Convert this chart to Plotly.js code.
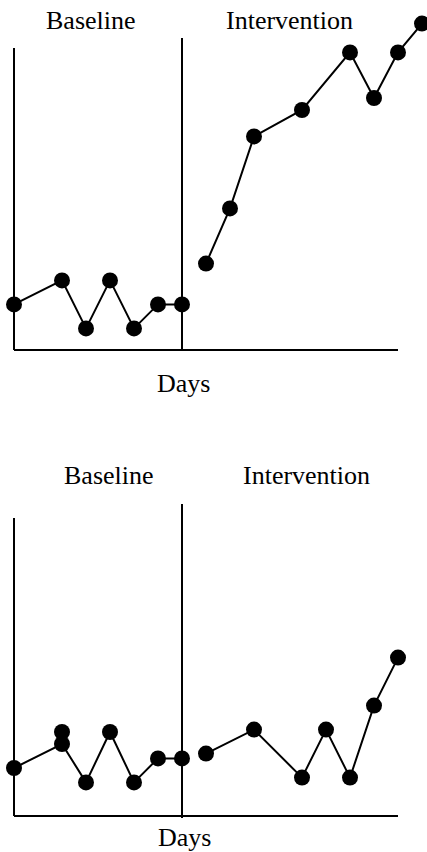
<!DOCTYPE html>
<html>
<head>
<meta charset="utf-8">
<script src="https://cdn.plot.ly/plotly-3.0.1.min.js"></script>
<style>
  html, body { margin: 0; padding: 0; background: #fff; }
  #chart { width: 427px; height: 852px; }
</style>
</head>
<body>
<div id="chart"></div>
<script>
// ---- Data ----
const phaseLabels = ["Baseline", "Intervention"];
const xAxisLabel = "Days";

// Top graph
const topBaselineDays = [0, 2, 3, 4, 5, 6, 7];
const topBaselineValues = [1.9, 2.9, 0.9, 2.9, 0.9, 1.9, 1.9];
const topInterventionDays = [8, 9, 10, 12, 14, 15, 16, 17];
const topInterventionValues = [3.6, 5.9, 8.9, 10.0, 12.4, 10.5, 12.4, 13.6];

// Bottom graph
const bottomBaselineDays = [0, 2, 3, 4, 5, 6, 7];
const bottomBaselineValues = [2.0, 3.0, 1.4, 3.5, 1.4, 2.4, 2.4];
const bottomExtraDays = [2];
const bottomExtraValues = [3.5];
const bottomInterventionDays = [8, 10, 12, 13, 14, 15, 16];
const bottomInterventionValues = [2.6, 3.6, 1.6, 3.6, 1.6, 4.6, 6.6];

// ---- Structure ----
const phaseChangeDay = 7;
const axisEndDay = 16;
const W = 427, H = 852;
const pxPerDay = 24, originPx = 14;
const xRange = [-originPx / pxPerDay, (W - originPx) / pxPerDay];

const lineStyle = { color: "#000", width: 2 };
const markerStyle = { color: "#000", size: 16 };

function seg(xs, ys, xa, ya, mode) {
  return {
    type: "scatter", mode: mode || "lines+markers",
    x: xs, y: ys, xaxis: xa, yaxis: ya,
    line: lineStyle, marker: markerStyle,
    cliponaxis: false, hoverinfo: "skip", showlegend: false
  };
}

const traces = [
  seg(topBaselineDays, topBaselineValues, "x", "y"),
  seg(topInterventionDays, topInterventionValues, "x", "y"),
  seg(bottomBaselineDays, bottomBaselineValues, "x2", "y2"),
  seg(bottomExtraDays, bottomExtraValues, "x2", "y2", "markers"),
  seg(bottomInterventionDays, bottomInterventionValues, "x2", "y2")
];

// pixel helpers for panel placement
const py = p => 1 - p / H;
const topPanel = { topPx: 0, bottomPx: 360, axisPx: 350 };
const botPanel = { topPx: 490, bottomPx: 826, axisPx: 816 };
const unitPx = 24;
function yRange(p) {
  return [-(p.bottomPx - p.axisPx) / unitPx, (p.axisPx - p.topPx) / unitPx];
}

const hiddenAxis = {
  showgrid: false, zeroline: false, showline: false,
  showticklabels: false, ticks: "", fixedrange: true
};

function panelShapes(xr, yr, leftTop, dividerTop, dividerBottom) {
  const base = { type: "line", xref: xr, yref: yr, line: lineStyle, layer: "below" };
  return [
    Object.assign({}, base, { x0: 0, x1: 0, y0: 0, y1: leftTop }),
    Object.assign({}, base, { x0: phaseChangeDay, x1: phaseChangeDay, y0: dividerBottom, y1: dividerTop }),
    Object.assign({}, base, { x0: 0, x1: axisEndDay, y0: 0, y1: 0 })
  ];
}

const textFont = { family: "Liberation Serif, Times New Roman, serif", size: 26, color: "#000" };
function label(text, xPx, yPx) {
  return {
    text: text, xref: "paper", yref: "paper",
    x: xPx / W, y: py(yPx), xanchor: "center", yanchor: "middle",
    showarrow: false, font: textFont
  };
}

const layout = {
  width: W, height: H,
  margin: { l: 0, r: 0, t: 0, b: 0 },
  paper_bgcolor: "#fff", plot_bgcolor: "rgba(0,0,0,0)",
  showlegend: false,
  xaxis: Object.assign({}, hiddenAxis, { range: xRange, domain: [0, 1], anchor: "y" }),
  yaxis: Object.assign({}, hiddenAxis, { range: yRange(topPanel), domain: [py(topPanel.bottomPx), py(topPanel.topPx)], anchor: "x" }),
  xaxis2: Object.assign({}, hiddenAxis, { range: xRange, domain: [0, 1], anchor: "y2" }),
  yaxis2: Object.assign({}, hiddenAxis, { range: yRange(botPanel), domain: [py(botPanel.bottomPx), py(botPanel.topPx)], anchor: "x2" }),
  shapes: [].concat(
    panelShapes("x", "y", 12.58, 13.0, 0),
    panelShapes("x2", "y2", 12.42, 13.0, -0.08)
  ),
  annotations: [
    label(phaseLabels[0], 91, 21),
    label(phaseLabels[1], 289, 21),
    label(xAxisLabel, 183, 383),
    label(phaseLabels[0], 109, 476),
    label(phaseLabels[1], 306, 476),
    label(xAxisLabel, 184, 837)
  ]
};

Plotly.newPlot("chart", traces, layout, { displayModeBar: false, staticPlot: true });
</script>
</body>
</html>
